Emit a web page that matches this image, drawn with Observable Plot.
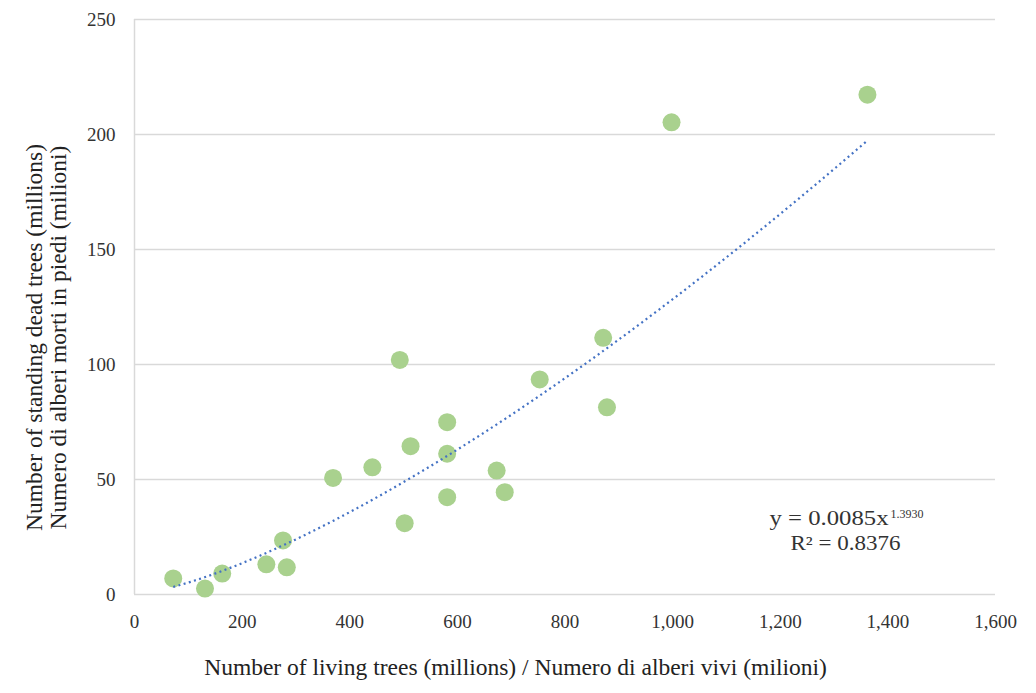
<!DOCTYPE html>
<html>
<head>
<meta charset="utf-8">
<script src="https://cdn.jsdelivr.net/npm/d3@7"></script>
<script src="https://cdn.jsdelivr.net/npm/@observablehq/plot@0.6"></script>
<style>
  html, body { margin: 0; padding: 0; background: #fff; }
  #chart svg { display: block; }
</style>
</head>
<body>
<div id="chart"></div>
<script>
// Living trees (millions) — x values
const livingTrees = [72, 131, 163, 245, 276, 283, 369, 442, 493, 502, 513, 581, 581, 581, 673, 688, 753, 871, 878, 998, 1362];
// Standing dead trees (millions) — y values
const deadTrees   = [7.0, 2.6, 9.1, 13.1, 23.5, 11.8, 50.7, 55.3, 102, 31, 64.5, 74.9, 61.2, 42.3, 53.9, 44.5, 93.5, 111.6, 81.4, 205.3, 217.3];

// Power trendline shown on the chart: y = 0.0085 x^1.3930, R² = 0.8376
const trendCoef = 0.0085;
const trendExp = 1.3930;
const equationMain = "y = 0.0085x";
const equationSup = "1.3930";
const rSquaredText = "R² = 0.8376";

const xTicks = [0, 200, 400, 600, 800, 1000, 1200, 1400, 1600];
const yTicks = [0, 50, 100, 150, 200, 250];

const xTitle = "Number of living trees (millions) / Numero di alberi vivi (milioni)";
const yTitle = "Number of standing dead trees (millions)\nNumero di alberi morti in piedi (milioni)";

const points = livingTrees.map((x, i) => ({x, y: deadTrees[i]}));
const [xMin, xMax] = d3.extent(livingTrees);
const trend = d3.range(0, 201).map(i => {
  const x = xMin + (xMax - xMin) * i / 200;
  return {x, y: trendCoef * Math.pow(x, trendExp)};
});

const serif = "'Liberation Serif', 'Times New Roman', serif";

const chart = Plot.plot({
  width: 1036,
  height: 693,
  marginLeft: 134,
  marginRight: 41,
  marginTop: 19,
  marginBottom: 99,
  style: {fontFamily: serif, background: "#fff", overflow: "visible"},
  x: {domain: [0, 1600]},
  y: {domain: [0, 250]},
  marks: [
    Plot.gridY(yTicks, {stroke: "#d9d9d9", strokeOpacity: 1, strokeWidth: 1.5}),
    Plot.ruleX([0], {stroke: "#d9d9d9", strokeWidth: 1.5}),
    Plot.axisX(xTicks, {tickSize: 0, tickPadding: 20, tickFormat: d3.format(","), fontSize: 19, fill: "#333", label: null}),
    Plot.axisY(yTicks, {tickSize: 0, tickPadding: 19, fontSize: 19, fill: "#333", label: null}),
    Plot.dot(points, {x: "x", y: "y", r: 9, fill: "#a9d18e", stroke: "none"}),
    Plot.line(trend, {x: "x", y: "y", stroke: "#4472c4", strokeWidth: 2.2, strokeDasharray: "2,3.4", strokeLinecap: "butt"}),
    Plot.text([equationMain], {text: d => d, frameAnchor: "bottom-right", textAnchor: "start", dx: -226, dy: -70, fontSize: 20, fill: "#333"}),
    Plot.text([equationSup], {text: d => d, frameAnchor: "bottom-right", textAnchor: "start", dx: -105, dy: -77, fontSize: 12, fill: "#333"}),
    Plot.text([rSquaredText], {text: d => d, frameAnchor: "bottom-right", textAnchor: "middle", dx: -150, dy: -45, fontSize: 20, fill: "#333"}),
    Plot.text([xTitle], {text: d => d, frameAnchor: "bottom", textAnchor: "middle", dx: -49.5, dy: 80, fontSize: 23.5, fill: "#222"}),
    Plot.text([yTitle], {text: d => d, frameAnchor: "left", textAnchor: "middle", rotate: -90, dx: -88.5, dy: 30.5, fontSize: 23.5, lineHeight: 1.06, fill: "#222"})
  ]
});

// Stretch the equation glyphs horizontally like the reference label
d3.select(chart).selectAll("text").each(function () {
  const t = this.textContent;
  if (t === equationMain) d3.select(this).attr("textLength", 119).attr("lengthAdjust", "spacingAndGlyphs");
  if (t === rSquaredText) d3.select(this).attr("textLength", 110).attr("lengthAdjust", "spacingAndGlyphs");
});

document.getElementById("chart").appendChild(chart);
</script>
</body>
</html>
